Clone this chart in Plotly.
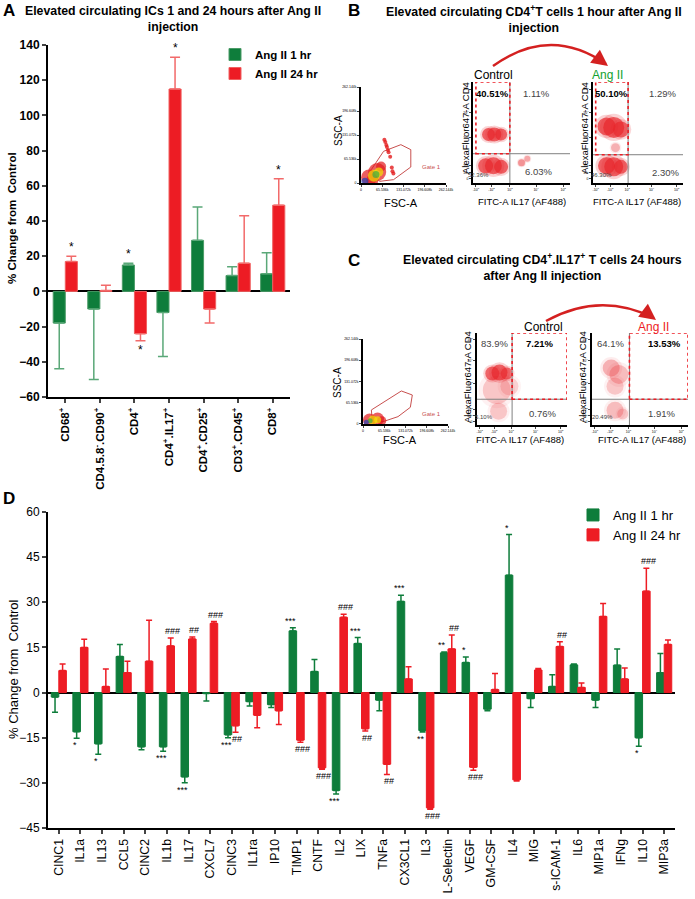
import plotly.graph_objects as go

W, H = 695, 899
FONT = 'Arial, Liberation Sans, sans-serif'
GREEN = '#0e7d3b'
RED = '#ed1c24'
CELL = '#e8262b'

# ---------------- Panel A data ----------------
a_cats = ['CD68<sup>+</sup>', 'CD4.5.8<sup>-</sup>.CD90<sup>+</sup>', 'CD4<sup>+</sup>',
          'CD4<sup>+</sup>.IL17<sup>+</sup>', 'CD4<sup>+</sup>.CD25<sup>+</sup>',
          'CD3<sup>+</sup>.CD45<sup>+</sup>', 'CD8<sup>+</sup>']
a_1hr = [-18, -10, 15, -12, 29, 9, 10]
a_1hr_err = [26, 40, 1, 25, 19, 5, 12]
a_24hr = [17, 0.5, -24, 115, -10, 16, 49]
a_24hr_err = [3, 3, 4, 18, 8, 27, 15]
a_sig_1hr = ['', '', '*', '', '', '', '']
a_sig_24hr = ['*', '', '*', '*', '', '', '*']

# ---------------- Panel D data ----------------
d_cats = ['CINC1', 'IL1a', 'IL13', 'CCL5', 'CINC2', 'IL1b', 'IL17', 'CXCL7', 'CINC3', 'IL1ra',
          'IP10', 'TIMP1', 'CNTF', 'IL2', 'LIX', 'TNFa', 'CX3CL1', 'IL3', 'L-Selectin', 'VEGF',
          'GM-CSF', 'IL4', 'MIG', 's-ICAM-1', 'IL6', 'MIP1a', 'IFNg', 'IL10', 'MIP3a']
d_1hr = [-1.5, -13, -17, 12, -18, -18, -28, -0.3, -14, -3, -4, 20.5, 7, -32.5, 16.3,
         -2.5, 30.3, -12.6, 13.2, 10, -5.5, 39, -2, 2, 9.2, -2.5, 9.1, -15, 6.6]
d_1hr_err = [5, 2.2, 3.5, 4, 1, 1.5, 2, 2.5, 1, 1.5, 1, 1, 4, 1.2, 2,
             3.5, 2, 0.5, 0.3, 1.8, 0.5, 13.5, 3, 3.9, 0.3, 2.5, 5.4, 2.8, 6.4]
d_24hr = [7.3, 15, 2, 6.6, 10.4, 15.5, 17.8, 23, -11, -7.5, -6, -15.8, -25, 25, -12,
          -23.8, 4.5, -38.3, 14.5, -24.8, 1, -29, 7.5, 15.3, 1.7, 25.3, 4.5, 33.7, 16]
d_24hr_err = [2.2, 2.7, 5.8, 3.8, 13.6, 2.6, 0.7, 0.6, 2.2, 4.2, 4.6, 0.7, 0.5, 1, 0.8,
              3.4, 4.1, 0.5, 4.6, 1, 5.3, 0.4, 0.5, 1.6, 1.5, 4.3, 3.7, 7.6, 1.5]
d_sig_1hr = ['', '*', '*', '', '', '***', '***', '', '***', '', '', '***', '', '***', '***',
             '', '***', '**', '**', '*', '', '*', '', '', '', '', '', '*', '']
d_sig_24hr = ['', '', '', '', '', '###', '##', '###', '##', '', '', '###', '###', '###', '##',
              '##', '', '###', '##', '###', '', '', '', '##', '', '', '', '###', '']

# ---------------- Flow cytometry (B, C) ----------------
fsc_ticks = [0, 65536, 131072, 196608, 262144]
b1_gate_x = [31700, 69600, 122900, 153600, 153600, 100350, 57300, 31700]
b1_gate_y = [36400, 86500, 104700, 91000, 43700, 9100, 4550, 36400]
c1_gate_x = [25700, 118200, 152100, 146000, 107900, 61700, 28800, 25700]
c1_gate_y = [43200, 101800, 89400, 51400, 22600, 7200, 12300, 43200]
# density layers (x, y, size): red, yellow, green, blue
b1_density = [
    [(25000, 15000, 16), (50000, 30000, 18), (62000, 45000, 10), (35000, 8000, 12)],
    [(40000, 20000, 12), (55000, 30000, 9)],
    [(46000, 23000, 7)],
    [(12000, 5000, 7)],
]
b1_events = [(75000, 112000), (80000, 98000), (85000, 84000), (90000, 72000), (78000, 104000),
             (95000, 42000), (97000, 32000), (100000, 26000), (83000, 90000), (72000, 118000)]
c1_density = [
    [(20000, 12000, 13), (45000, 15000, 13), (58000, 10000, 9)],
    [(30000, 12000, 9), (45000, 13000, 7)],
    [(22000, 10000, 5)],
    [(10000, 5000, 5)],
]
# dot plots on a normalised 0-1 display scale: (x, y, size, density)
b2_cells = [(0.16, 0.48, 13, 0.8), (0.22, 0.48, 14, 0.8), (0.29, 0.48, 12, 0.8),
            (0.13, 0.17, 15, 0.8), (0.21, 0.17, 17, 0.8), (0.29, 0.16, 14, 0.8),
            (0.50, 0.20, 7, 0.5), (0.56, 0.24, 6, 0.4)]
b3_cells = [(0.15, 0.56, 18, 0.8), (0.23, 0.55, 21, 0.8), (0.31, 0.53, 16, 0.75),
            (0.15, 0.17, 17, 0.8), (0.23, 0.16, 19, 0.8), (0.31, 0.16, 14, 0.75),
            (0.25, 0.35, 9, 0.35)]
c2_cells = [(0.17, 0.56, 14, 0.75), (0.25, 0.57, 16, 0.8), (0.33, 0.56, 12, 0.7),
            (0.22, 0.38, 28, 0.25), (0.36, 0.42, 18, 0.2), (0.24, 0.15, 17, 0.25)]
c3_cells = [(0.20, 0.62, 17, 0.35), (0.28, 0.55, 19, 0.3), (0.24, 0.42, 17, 0.25),
            (0.24, 0.16, 17, 0.3), (0.32, 0.12, 11, 0.25)]
flow_split = {4: (0.38, 0.29), 5: (0.39, 0.28), 7: (0.39, 0.28), 8: (0.39, 0.28)}
b2_pct = ['40.51%', '1.11%', '52.36%', '6.03%']
b3_pct = ['50.10%', '1.29%', '46.30%', '2.30%']
c2_pct = ['83.9%', '7.21%', '5.10%', '0.76%']
c3_pct = ['64.1%', '13.53%', '20.49%', '1.91%']


def px(x):
    return x / W


def py(y):
    return 1 - y / H


def err_split(vals, errs):
    plus = [e if v >= 0 else 0 for v, e in zip(vals, errs)]
    minus = [0 if v >= 0 else e for v, e in zip(vals, errs)]
    return plus, minus


fig = go.Figure()
ann = []
shapes = []


def note(text, x, y, size=11, color='black', bold=False, angle=0, xanchor='center',
         yanchor='middle', xref='paper', yref='paper', xshift=0, yshift=0):
    ann.append(dict(text=text, x=x, y=y, xref=xref, yref=yref, showarrow=False,
                    font=dict(size=size, color=color, family=FONT, weight='bold' if bold else 'normal'),
                    textangle=angle, xanchor=xanchor, yanchor=yanchor, xshift=xshift, yshift=yshift))


def bars(vals, errs, name, color, ecolor, lcolor, ax, legend, ewidth):
    p, m = err_split(vals, errs)
    fig.add_trace(go.Bar(x=list(range(len(vals))), y=vals, name=name,
                         marker=dict(color=color, line=dict(color=lcolor, width=1)),
                         error_y=dict(type='data', symmetric=False, array=p, arrayminus=m,
                                      color=ecolor, thickness=1.5, width=ewidth),
                         xaxis='x' + ax, yaxis='y' + ax, legend=legend))


def sig(vals, errs, marks, off, ax, size, nudge):
    for i, (v, e, s) in enumerate(zip(vals, errs, marks)):
        if not s:
            continue
        up = v >= 0
        note(s, i + off, v + e if up else v - e, size=size, xref='x' + ax, yref='y' + ax,
             yanchor='bottom' if up else 'top', xshift=nudge)


# ---- Panel A
GAP_A = 0.3
bars(a_1hr, a_1hr_err, 'Ang II 1 hr', GREEN, '#5aa878', '#4c9c68', '', 'legend', 5)
bars(a_24hr, a_24hr_err, 'Ang II 24 hr', RED, '#f26a6a', '#f06060', '', 'legend', 5)
sig(a_1hr, a_1hr_err, a_sig_1hr, -(1 - GAP_A) / 4, '', 12, 0)
sig(a_24hr, a_24hr_err, a_sig_24hr, (1 - GAP_A) / 4, '', 12, 0)

# ---- Panel D
GAP_D = 0.32
bars(d_1hr, d_1hr_err, 'Ang II 1 hr', GREEN, GREEN, GREEN, '2', 'legend2', 3)
bars(d_24hr, d_24hr_err, 'Ang II 24 hr', RED, RED, RED, '2', 'legend2', 3)
sig(d_1hr, d_1hr_err, d_sig_1hr, -(1 - GAP_D) / 4, '2', 9, -2)
sig(d_24hr, d_24hr_err, d_sig_24hr, (1 - GAP_D) / 4, '2', 9, 2)

# ---- FSC / SSC plots
DENS_COLORS = ['#e31a1c', '#f2e205', '#3aa845', '#2140b5']


def fsc_plot(n, gx, gy, dens, events):
    ax = dict(xaxis='x%d' % n, yaxis='y%d' % n, showlegend=False, hoverinfo='skip')
    fig.add_trace(go.Scatter(x=gx, y=gy, mode='lines', line=dict(color='#c8504f', width=1), **ax))
    if events:
        fig.add_trace(go.Scatter(x=[e[0] for e in events], y=[e[1] for e in events], mode='markers',
                                 marker=dict(size=4, color=DENS_COLORS[0], opacity=0.8), **ax))
    for layer, col in zip(dens, DENS_COLORS):
        fig.add_trace(go.Scatter(x=[d[0] for d in layer], y=[d[1] for d in layer], mode='markers',
                                 marker=dict(size=[d[2] for d in layer], color=col, line_width=0), **ax))


fsc_plot(3, b1_gate_x, b1_gate_y, b1_density, b1_events)
fsc_plot(6, c1_gate_x, c1_gate_y, c1_density, [])


def dot_plot(n, cells):
    ax = dict(xaxis='x%d' % n, yaxis='y%d' % n, showlegend=False, hoverinfo='skip')
    for cx, cy, s, dens in cells:
        fig.add_trace(go.Scatter(x=[cx], y=[cy], mode='markers',
                                 marker=dict(size=s * 1.3, color=CELL, opacity=dens * 0.25, line_width=0), **ax))
        fig.add_trace(go.Scatter(x=[cx], y=[cy], mode='markers',
                                 marker=dict(size=s, color=CELL, opacity=dens * 0.85, line_width=0), **ax))
    qx, qy = flow_split[n]
    shapes.append(dict(type='line', xref='x%d' % n, yref='y%d' % n, x0=qx, x1=qx, y0=0, y1=1,
                       line=dict(color='#808080', width=1)))
    shapes.append(dict(type='line', xref='x%d' % n, yref='y%d' % n, x0=0, x1=1, y0=qy, y1=qy,
                       line=dict(color='#808080', width=1)))


dot_plot(4, b2_cells)
dot_plot(5, b3_cells)
dot_plot(7, c2_cells)
dot_plot(8, c3_cells)

# gates (red dotted)
for n, upper_left in [(4, True), (5, True), (7, False), (8, False)]:
    qx, qy = flow_split[n]
    x0, x1 = (0.03, qx) if upper_left else (qx, 1.0)
    shapes.append(dict(type='rect', xref='x%d' % n, yref='y%d' % n, x0=x0, x1=x1, y0=qy, y1=1.0,
                       line=dict(color=RED, width=1.6, dash='dot')))

# percentages
pct_pos = {4: [(0.2, 0.89), (0.65, 0.89), (0.06, 0.08), (0.68, 0.11)],
           5: [(0.21, 0.89), (0.77, 0.89), (0.09, 0.08), (0.8, 0.1)],
           7: [(0.19, 0.89), (0.69, 0.89), (0.08, 0.09), (0.73, 0.12)],
           8: [(0.19, 0.89), (0.75, 0.89), (0.11, 0.09), (0.72, 0.12)]}
pct_bold = {4: 0, 5: 0, 7: 1, 8: 1}
for n, labels in [(4, b2_pct), (5, b3_pct), (7, c2_pct), (8, c3_pct)]:
    for k, (lab, (x, y)) in enumerate(zip(labels, pct_pos[n])):
        small = k == 2
        bold = k == pct_bold[n]
        note(lab, x, y, size=6 if small else 9.5, bold=bold, color='black' if bold else '#444',
             xref='x%d' % n, yref='y%d' % n)

# ---------------- layout axes ----------------
axis_common = dict(showgrid=False, showline=True, linecolor='black', ticks='outside',
                   automargin=False)
flow_xt = [0.03, 0.19, 0.38, 0.65, 0.93]
flow_xtt = ['-10<sup>3</sup>', '-10<sup>2</sup>', '10<sup>3</sup>', '10<sup>4</sup>', '10<sup>5</sup>']
flow_yt = [0.04, 0.1, 0.17, 0.45, 0.7, 0.93]
flow_ytt = ['0', '10<sup>1</sup>', '10<sup>2</sup>', '10<sup>3</sup>', '10<sup>4</sup>', '10<sup>5</sup>']

lay = dict(
    width=W, height=H, margin=dict(l=0, r=0, t=0, b=0), autosize=False, template='none',
    paper_bgcolor='white', plot_bgcolor='white', font=dict(family=FONT, color='black'),
    barmode='group', bargap=GAP_A, bargroupgap=0,
    xaxis=dict(domain=[px(48), px(290)], range=[-0.5, 6.5], anchor='y', tickvals=list(range(len(a_cats))),
               ticktext=a_cats, tickangle=-90, linewidth=2, ticklen=4, tickwidth=1.5,
               tickfont=dict(size=11.5, weight='bold'), zeroline=False, **axis_common),
    yaxis=dict(domain=[py(397), py(45)], range=[-60, 140], dtick=20, anchor='x', linewidth=2,
               ticklen=4, tickwidth=1.5, tickfont=dict(size=12, weight='bold'), zeroline=True,
               zerolinecolor='black', zerolinewidth=2, **axis_common),
    xaxis2=dict(domain=[px(48), px(675)], range=[-0.5, 28.5], anchor='y2', tickvals=list(range(len(d_cats))),
                ticktext=d_cats, tickangle=-90, linewidth=2, ticklen=4, tickwidth=1.5,
                tickfont=dict(size=12.3), zeroline=False, **axis_common),
    yaxis2=dict(domain=[py(828), py(512)], range=[-45, 60], dtick=15, anchor='x2', linewidth=2,
                ticklen=4, tickwidth=1.5, tickfont=dict(size=12), zeroline=True,
                zerolinecolor='black', zerolinewidth=2, **axis_common),
    legend=dict(x=px(215), y=py(40), xanchor='left', yanchor='top', bgcolor='rgba(0,0,0,0)',
                font=dict(size=11.5, weight='bold'), tracegroupgap=0, itemwidth=30),
    legend2=dict(x=px(573), y=py(500), xanchor='left', yanchor='top', bgcolor='rgba(0,0,0,0)',
                 font=dict(size=13), tracegroupgap=0, itemwidth=30),
)

fsc_domains = {3: ([px(361), px(446)], [py(183), py(87)], [0, 262144]),
               6: ([px(363), px(448)], [py(424), py(339)], [-78, 262144])}
for n, (xd, yd, yr) in fsc_domains.items():
    lay['xaxis%d' % n] = dict(domain=xd, range=[0, 262144], anchor='y%d' % n, tickvals=fsc_ticks,
                              tickfont=dict(size=3.5), ticklen=2, linewidth=1.5, zeroline=False, **axis_common)
    lay['yaxis%d' % n] = dict(domain=yd, range=yr, anchor='x%d' % n, tickvals=fsc_ticks,
                              tickfont=dict(size=3.5), ticklen=2, linewidth=1.5, zeroline=False, **axis_common)

dot_domains = {4: ([px(473), px(570)], [py(183), py(82)]),
               5: ([px(593), px(683)], [py(183), py(82)]),
               7: ([px(477), px(567)], [py(425), py(333)]),
               8: ([px(592), px(688)], [py(425), py(333)])}
for n, (xd, yd) in dot_domains.items():
    lay['xaxis%d' % n] = dict(domain=xd, range=[0, 1], anchor='y%d' % n, tickvals=flow_xt, ticktext=flow_xtt,
                              tickfont=dict(size=3.5), ticklen=2, linewidth=1.5, zeroline=False, **axis_common)
    lay['yaxis%d' % n] = dict(domain=yd, range=[0, 1], anchor='x%d' % n, tickvals=flow_yt, ticktext=flow_ytt,
                              tickfont=dict(size=3.5), ticklen=2, linewidth=1.5, zeroline=False, **axis_common)

# ---------------- text ----------------
note('A', px(9), py(11), size=17, bold=True)
note('B', px(354), py(10), size=17, bold=True)
note('C', px(354), py(260), size=17, bold=True)
note('D', px(9), py(498), size=17, bold=True)

note('Elevated circulating ICs 1 and 24 hours after Ang II<br>injection', px(173), py(19), size=12.3, bold=True)
note('Elevated circulating CD4<sup>+</sup>T cells 1 hour after Ang II<br>injection', px(534), py(19), size=12.3, bold=True)
note('Elevated circulating CD4<sup>+</sup>.IL17<sup>+</sup> T cells 24 hours<br>after Ang II injection',
     px(542), py(267), size=12.3, bold=True)

note('% Change from  Control', px(12), py(218), size=11.5, bold=True, angle=-90)
note('% Change from  Control', px(13), py(669), size=13, angle=-90)

for y_ssc, y_fsc, x_fsc in [(131, 203, 401), (383, 440, 400)]:
    note('SSC-A', px(338), py(y_ssc), size=10, angle=-90)
    note('FSC-A', px(x_fsc), py(y_fsc), size=11)
for x_lab, y_lab, x_fitc, y_fitc in [(465, 128, 522, 202), (584, 128, 637, 202),
                                       (467, 377, 520, 439), (582, 377, 642, 439)]:
    note('AlexaFluor647-A CD4', px(x_lab), py(y_lab), size=9.5, angle=-90)
    note('FITC-A IL17 (AF488)', px(x_fitc), py(y_fitc), size=9.5)

note('Control', px(493), py(75), size=12)
note('Ang II', px(607), py(75), size=12, color='#12a12f')
note('Control', px(543), py(327), size=12)
note('Ang II', px(653), py(327), size=12, color=RED)
note('Gate 1', px(431), py(167), size=6, color='#c8504f')
note('Gate 1', px(432), py(414), size=6, color='#c8504f')

# curved arrows
ARROW = '#d42020'
for (x0, y0), (cx, cy), (x1, y1) in [((493, 66), (550, 25), (606, 64)), ((546, 321), (600, 291), (654, 318))]:
    shapes.append(dict(type='path', xref='paper', yref='paper',
                       path='M %f,%f Q %f,%f %f,%f' % (px(x0), py(y0), px(cx), py(cy), px(x1), py(y1)),
                       line=dict(color=ARROW, width=2.5)))
    ann.append(dict(x=px(x1 + 2), y=py(y1 + 2), xref='paper', yref='paper', text='', showarrow=True,
                    ax=-8, ay=-6, arrowhead=2, arrowsize=1.3, arrowwidth=2.5, arrowcolor=ARROW))

lay['annotations'] = ann
lay['shapes'] = shapes
fig.update_layout(**lay)

# page body has a default 8px margin; drop it so the figure sits at the window corner
fig.write_html('out.html', config={'displayModeBar': False},
               post_script="document.body.style.margin='0px';")
